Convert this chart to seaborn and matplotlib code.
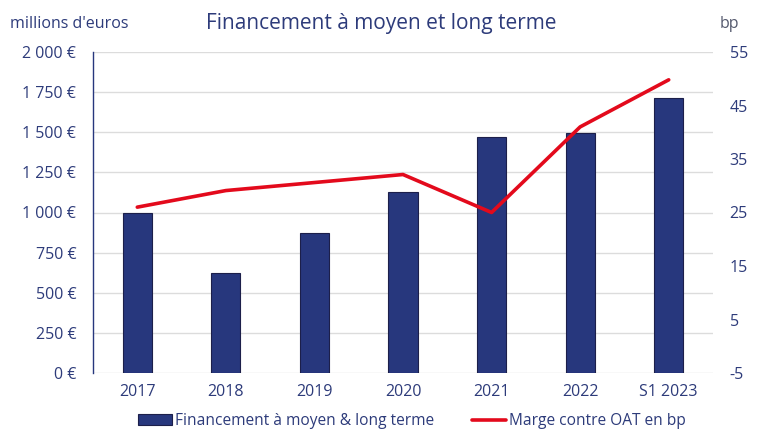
import numpy as np
import pandas as pd
import seaborn as sns
import matplotlib
matplotlib.use("Agg")
from matplotlib import pyplot as plt
from matplotlib.patches import Patch
from matplotlib.lines import Line2D
from matplotlib.ticker import FuncFormatter

# data
periods = ["2017", "2018", "2019", "2020", "2021", "2022", "S1 2023"]
financement = [1000, 625, 870, 1130, 1472, 1497, 1711]   # millions d'euros
marge_bp = [26, 29.1, 30.6, 32.1, 25, 41, 49.8]          # bp

navy = "#27377d"
red = "#e30a1c"
text_col = "#2d3b7a"

sns.set_style("white")
plt.rcParams["font.family"] = ["Open Sans", "DejaVu Sans"]
plt.rcParams["axes.unicode_minus"] = False

df = pd.DataFrame({"periode": periods, "fin": financement, "marge": marge_bp})

fig, ax = plt.subplots(figsize=(7.6, 4.29), dpi=100)
fig.subplots_adjust(left=93 / 760, right=713 / 760, top=1 - 52 / 429, bottom=1 - 373 / 429)

sns.barplot(data=df, x="periode", y="fin", color=navy, width=0.33,
            edgecolor="#1c1f4a", linewidth=0.8, saturation=1, ax=ax, zorder=2)
ax.set_ylim(0, 2000)
ax.set_yticks(np.arange(0, 2001, 250))
ax.yaxis.set_major_formatter(FuncFormatter(lambda v, p: f"{int(v):,} €".replace(",", " ")))
ax.set_xlim(-0.5, len(periods) - 0.5)
ax.set_xlabel("")
ax.set_ylabel("")
ax.grid(axis="y", color="#dcdcdc", linewidth=1, zorder=0)
ax.set_axisbelow(True)
ax.tick_params(axis="y", length=0, labelsize=11.5, labelcolor=text_col, pad=12)
ax.tick_params(axis="x", length=0, labelsize=11.5, labelcolor=text_col, pad=8)
for s in ["top", "right", "bottom"]:
    ax.spines[s].set_visible(False)
ax.spines["left"].set_color(navy)
ax.spines["left"].set_linewidth(1)

ax2 = ax.twinx()
sns.lineplot(x=np.arange(len(periods)), y=marge_bp, color=red, linewidth=2.6, ax=ax2, zorder=3)
ax2.set_ylim(-5, 55)
ax2.set_yticks(np.arange(-5, 56, 10))
ax2.tick_params(axis="y", length=0, labelsize=11.5, labelcolor=text_col, pad=12)
for s in ["top", "right", "bottom", "left"]:
    ax2.spines[s].set_visible(False)
ax2.set_ylabel("")

fig.text(0.013, 0.945, "millions d'euros", fontsize=11.5, color=text_col, va="center")
fig.text(0.947, 0.945, "bp", fontsize=11.5, color="#555a6e", va="center")
fig.text(0.502, 0.945, "Financement à moyen et long terme", fontsize=15, color=text_col,
         ha="center", va="center")

handles = [Patch(facecolor=navy, edgecolor="#1c1f4a", linewidth=0.8),
           Line2D([0], [0], color=red, linewidth=2.6)]
labels = ["Financement à moyen & long terme", "Marge contre OAT en bp"]
fig.legend(handles, labels, loc="center", bbox_to_anchor=(412 / 760, 1 - 421 / 429), ncol=2,
           frameon=False, fontsize=11.2, labelcolor=text_col, handlelength=2.2,
           handleheight=0.7, handletextpad=0.2, columnspacing=2.4)

fig.savefig("out.png", dpi=100)
